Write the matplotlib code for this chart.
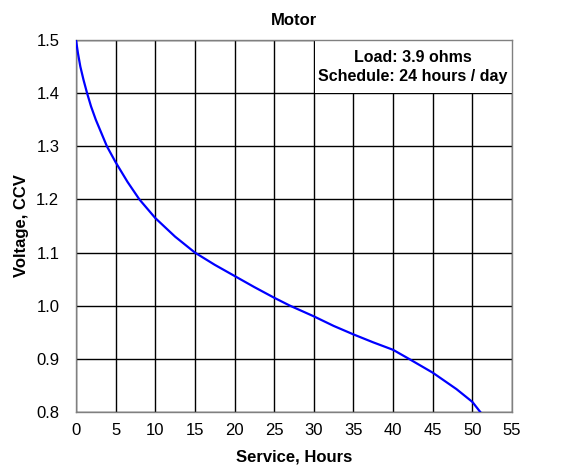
import matplotlib
matplotlib.use("Agg")
import matplotlib.pyplot as plt
from matplotlib.patches import Rectangle

# data
hours = [0, 0.25, 0.55, 0.95, 1.4, 1.9, 2.5, 3.2, 3.9, 5, 6.5, 8, 10, 12.5,
         15, 17.5, 20, 22.5, 25, 27, 30, 32.5, 35, 37.5, 40, 42, 45, 48, 50,
         51]
voltage = [1.5, 1.475, 1.45, 1.425, 1.4, 1.375, 1.35, 1.325, 1.3, 1.27,
           1.233, 1.2, 1.165, 1.13, 1.1, 1.077, 1.056, 1.035, 1.015, 1.0,
           0.98, 0.962, 0.946, 0.931, 0.917, 0.9, 0.874, 0.843, 0.819, 0.8]
x_ticks = list(range(0, 56, 5))
y_ticks = [0.8, 0.9, 1.0, 1.1, 1.2, 1.3, 1.4, 1.5]
title = "Motor"
note = "Load: 3.9 ohms\nSchedule: 24 hours / day"

plt.rcParams["font.family"] = ["Liberation Sans Narrow", "Liberation Sans", "DejaVu Sans"]

fig = plt.figure(figsize=(5.62, 4.68), dpi=100)
ax = fig.add_axes([0.1352, 0.1197, 0.7758, 0.7948])

ax.set_xlim(0, 55)
ax.set_ylim(0.8, 1.5)
ax.set_xticks(x_ticks)
ax.set_yticks(y_ticks)
ax.set_yticklabels([f"{v:.1f}" for v in y_ticks])
ax.tick_params(length=0, labelsize=12)
ax.tick_params(axis="y", pad=12)
ax.tick_params(axis="x", pad=8)
ax.grid(True, color="black", linewidth=1.0, zorder=1)
ax.set_axisbelow(True)
for s in ax.spines.values():
    s.set_color("#808080")
    s.set_linewidth(1.0)

# white note box hides the grid in the top right cell band
ax.add_patch(Rectangle((30.1, 1.401), 24.9, 0.099, facecolor="white",
                       edgecolor="none", zorder=2))
ax.text(42.5, 1.4495, note, ha="center", va="center", fontsize=11.5,
        fontweight="bold", linespacing=1.3, zorder=3)

ax.plot(hours, voltage, color="#0000ff", linewidth=1.6, zorder=4)

ax.set_title(title, fontsize=12, fontweight="bold", pad=11)
ax.set_xlabel("Service, Hours", fontsize=12, fontweight="bold", labelpad=8)
ax.set_ylabel("Voltage, CCV", fontsize=12, fontweight="bold", labelpad=5)

fig.savefig("out.png", dpi=100)
